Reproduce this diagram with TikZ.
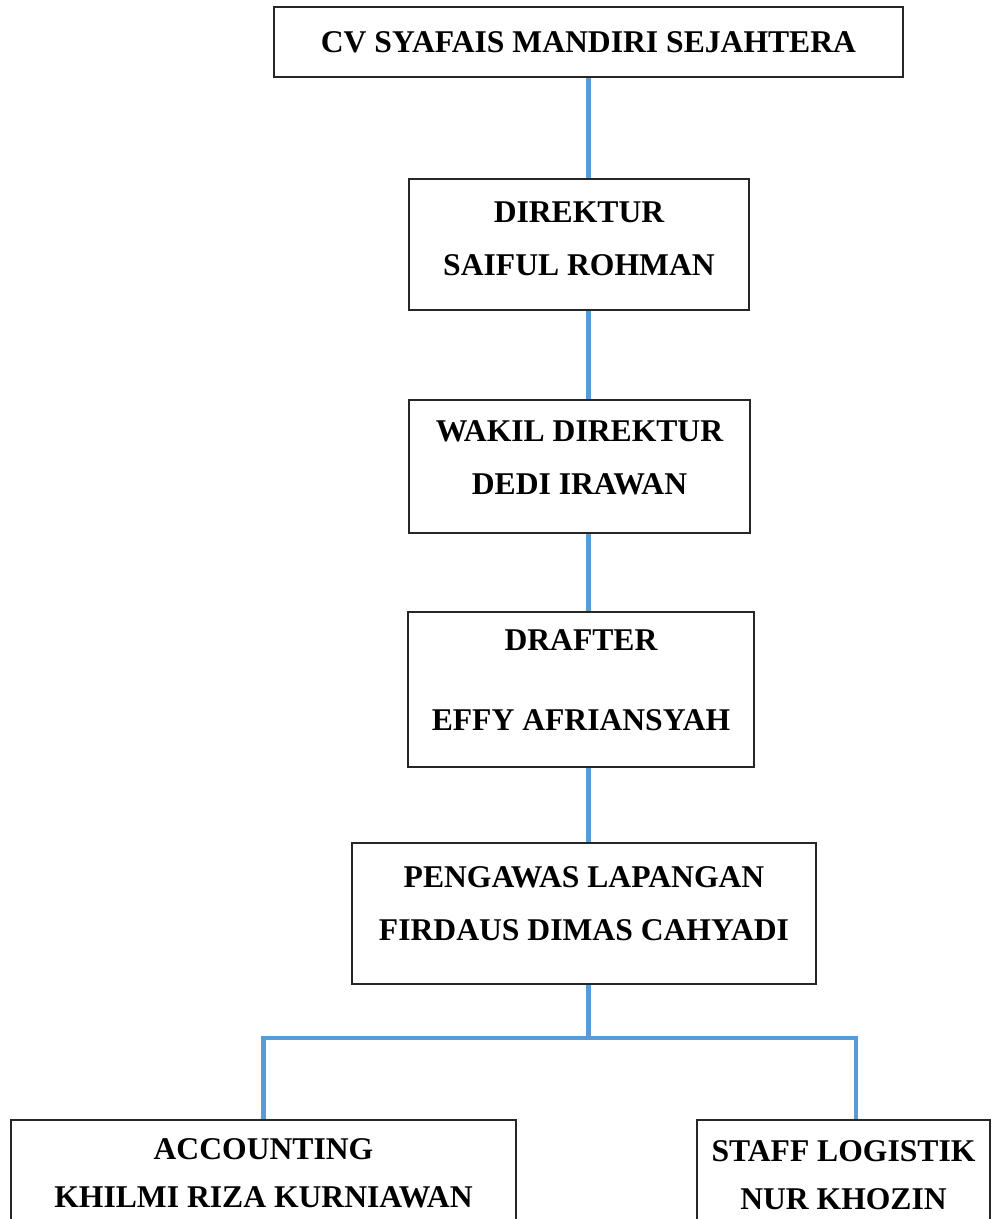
\documentclass[tikz,border=0pt]{standalone}
\usepackage{fontspec}
\setmainfont{Liberation Serif}
\usepackage{xcolor}
\definecolor{linkblue}{RGB}{91,155,213}
\usepackage{tikz}
\tikzset{
  orgbox/.style={draw=black!85, line width=1.1pt, rectangle, inner sep=0pt},
  orgtext/.style={align=center, inner sep=0pt, font=\fontsize{18}{30}\selectfont\bfseries},
  link/.style={linkblue, line width=2.3pt}
}

\begin{document}
\begin{tikzpicture}

  \useasboundingbox (0,0) rectangle (20.1,-24.38);

  % company
  \node[orgbox, minimum width=12.58cm, minimum height=1.4cm] (cv) at (11.77,-0.84) {};
  \node[orgtext] (cv-t) at (11.77,-0.84) {CV SYAFAIS MANDIRI SEJAHTERA};

  % direktur
  \node[orgbox, minimum width=6.8cm, minimum height=2.62cm] (direktur) at (11.58,-4.89) {};
  \node[orgtext] (direktur-t) at (11.58,-4.77) {DIREKTUR\\SAIFUL ROHMAN};

  % wakil direktur
  \node[orgbox, minimum width=6.82cm, minimum height=2.66cm] (wakil) at (11.59,-9.33) {};
  \node[orgtext] (wakil-t) at (11.59,-9.16) {WAKIL DIREKTUR\\DEDI IRAWAN};

  % drafter
  \node[orgbox, minimum width=6.92cm, minimum height=3.1cm] (drafter) at (11.62,-13.79) {};
  \node[orgtext] (drafter-t) at (11.62,-13.6) {DRAFTER\\[0.54cm]EFFY AFRIANSYAH};

  % pengawas lapangan
  \node[orgbox, minimum width=9.28cm, minimum height=2.82cm] (pengawas) at (11.68,-18.27) {};
  \node[orgtext] (pengawas-t) at (11.68,-18.07) {PENGAWAS LAPANGAN\\FIRDAUS DIMAS CAHYADI};

  % bottom row, cut off by the page
  \node[orgbox, minimum width=10.1cm, minimum height=2.6cm] (accounting) at (5.27,-23.7) {};
  \node[orgtext] (accounting-t) at (5.27,-23.46) {ACCOUNTING\\[-0.1cm]KHILMI RIZA KURNIAWAN};
  \node[orgbox, minimum width=5.86cm, minimum height=2.6cm] (staff) at (16.87,-23.7) {};
  \node[orgtext] (staff-t) at (16.87,-23.5) {STAFF LOGISTIK\\[-0.1cm]NUR KHOZIN};

  % the chain down the middle
  \draw[link] (cv.south) -- (cv.south |- direktur.north);
  \draw[link] (cv.south |- direktur.south) -- (cv.south |- wakil.north);
  \draw[link] (cv.south |- wakil.south) -- (cv.south |- drafter.north);
  \draw[link] (cv.south |- drafter.south) -- (cv.south |- pengawas.north);

  % branch
  \coordinate (split) at (cv.south |- 0,-20.76);
  \coordinate (staffdrop) at (17.12,-20.76);
  \draw[link] (split |- pengawas.south) -- (split);
  \draw[link] (accounting.north) |- (staffdrop) -- (staffdrop |- staff.north);

\end{tikzpicture}
\end{document}
